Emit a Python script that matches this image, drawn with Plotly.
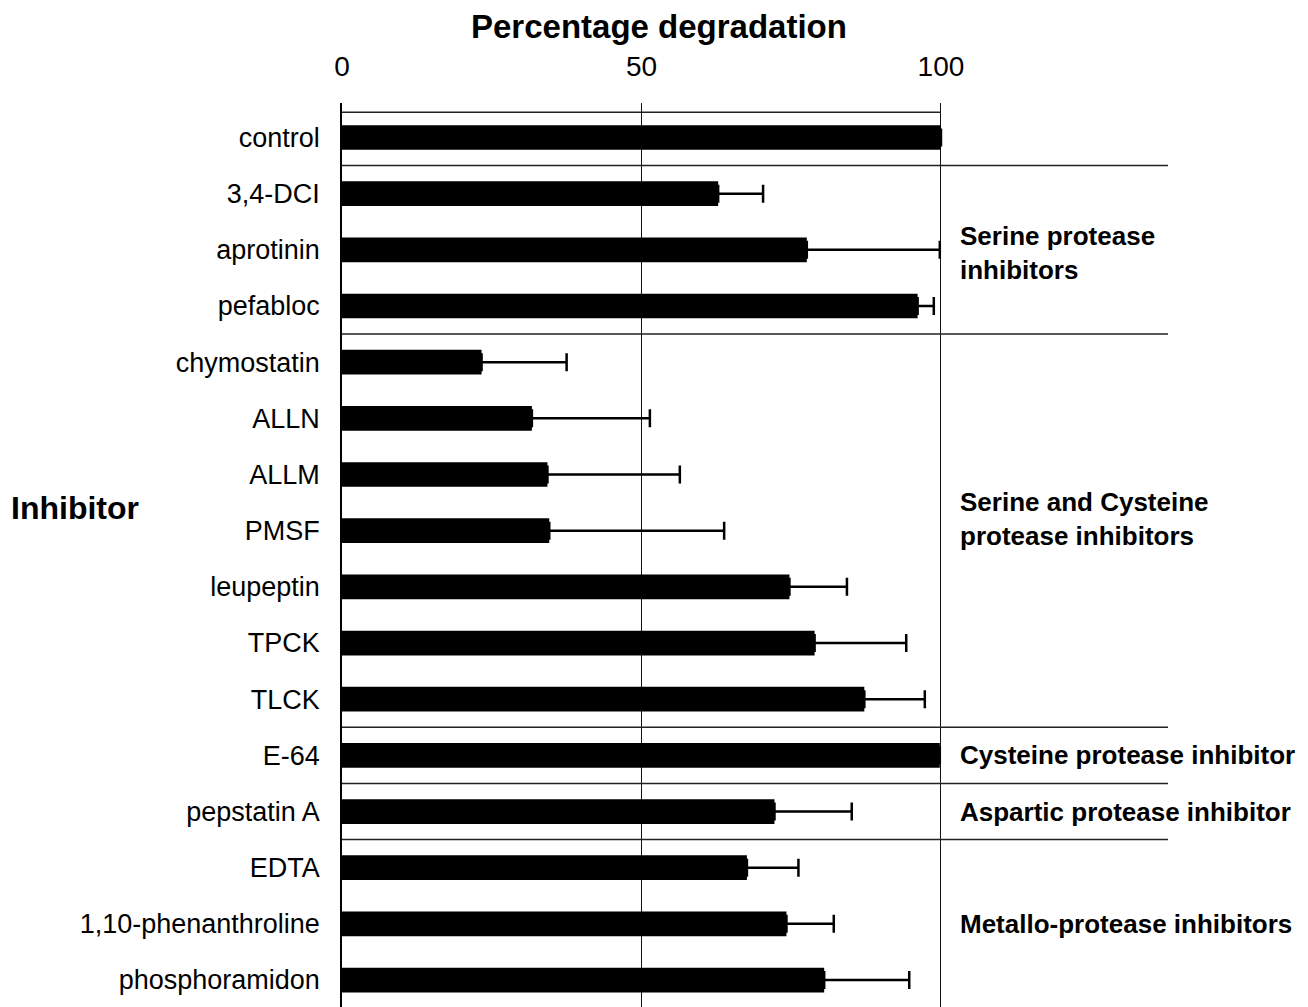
import plotly.graph_objects as go

categories = ["control", "3,4-DCI", "aprotinin", "pefabloc", "chymostatin", "ALLN",
              "ALLM", "PMSF", "leupeptin", "TPCK", "TLCK", "E-64", "pepstatin A",
              "EDTA", "1,10-phenanthroline", "phosphoramidon"]
degradation = [100, 62.8, 77.6, 96.1, 23.3, 31.7, 34.3, 34.6, 74.7, 78.9, 87.2,
               99.8, 72.2, 67.6, 74.2, 80.5]
error_plus = [0, 7.5, 22.2, 2.7, 14.2, 19.7, 22.1, 29.2, 9.6, 15.3, 10.1,
              0, 12.9, 8.6, 7.9, 14.2]
x_ticks = [0, 50, 100]

group_labels = ["Serine protease<br>inhibitors",
                "Serine and Cysteine<br>protease inhibitors",
                "Cysteine protease inhibitor",
                "Aspartic protease inhibitor",
                "Metallo-protease inhibitors"]
group_rows = [2.06, 6.8, 11, 12, 14]
separators = [0.5, 3.5, 10.5, 11.5, 12.5]

FONT = "Liberation Sans, Arial, Helvetica, sans-serif"

fig = go.Figure()
fig.add_trace(go.Bar(
    x=degradation, y=categories, orientation="h",
    marker=dict(color="black", line=dict(width=0)),
    width=0.44,
    error_x=dict(type="data", symmetric=False, array=error_plus,
                 arrayminus=[0] * len(error_plus),
                 color="black", thickness=2.5, width=9),
    showlegend=False,
))

shapes = []
shapes.append(dict(type="line", xref="x", yref="y", x0=0, x1=100, y0=-0.45, y1=-0.45,
                   line=dict(color="#222", width=1.5)))
for s in separators:
    shapes.append(dict(type="line", xref="paper", yref="y", x0=0, x1=1, y0=s, y1=s,
                       line=dict(color="#222", width=1.5)))

annotations = []
for txt, r in zip(group_labels, group_rows):
    annotations.append(dict(text="<b>" + txt + "</b>", xref="x", yref="y", x=102.8, y=r,
                            xanchor="left", yanchor="middle", align="left", showarrow=False,
                            font=dict(family=FONT, size=26, color="black")))
annotations.append(dict(text="<b>Percentage degradation</b>", xref="paper", yref="paper",
                        x=(659 - 342) / 826, y=(1007 - 27) / 904, xanchor="center",
                        yanchor="middle", showarrow=False,
                        font=dict(family=FONT, size=33, color="black")))
annotations.append(dict(text="<b>Inhibitor</b>", xref="paper", yref="paper",
                        x=(75 - 342) / 826, y=(1007 - 508) / 904, xanchor="center",
                        yanchor="middle", showarrow=False,
                        font=dict(family=FONT, size=32, color="black")))

fig.update_layout(
    width=1300, height=999,
    margin=dict(l=334, r=140, t=95, b=0, pad=0),
    paper_bgcolor="white", plot_bgcolor="white",
    font=dict(family=FONT, size=27, color="black"),
    shapes=shapes, annotations=annotations,
    xaxis=dict(side="top", range=[0, 137.9], tickvals=x_ticks, ticktext=[str(v) for v in x_ticks],
               showgrid=True, gridcolor="#111", gridwidth=1.3, zeroline=False,
               showline=False, ticks="", ticklabelstandoff=20,
               tickfont=dict(family=FONT, size=28, color="black")),
    yaxis=dict(type="category", categoryorder="array", categoryarray=categories,
               range=[15.48, -0.614], showgrid=False, zeroline=False,
               showline=True, linecolor="black", linewidth=1.5, ticks="",
               ticklabelstandoff=15,
               tickfont=dict(family=FONT, size=27, color="black")),
    bargap=0.56,
)

fig.write_html("out.html")
